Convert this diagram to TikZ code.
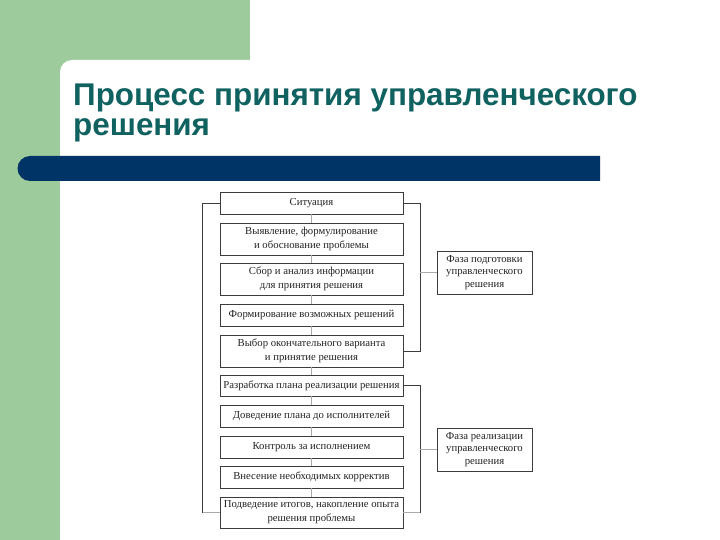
\documentclass[tikz,border=0pt]{standalone}
\usepackage{fontspec}
\setmainfont{Liberation Serif}
\newfontfamily\titlefamily{Liberation Sans}
\definecolor{greenbg}{RGB}{158,203,155}
\definecolor{barblue}{RGB}{0,51,102}
\definecolor{titlecol}{RGB}{16,98,96}
\definecolor{boxline}{RGB}{60,60,60}
\definecolor{thin}{RGB}{170,170,170}
\definecolor{txt}{RGB}{35,35,35}
\begin{document}
\begin{tikzpicture}[x=1pt,y=-1pt,
  stage/.style={draw=boxline, line width=0.9pt, fill=white, minimum width=183pt, inner sep=0pt, align=center, text=txt, font=\fontsize{10.7}{14}\selectfont},
  phase/.style={draw=boxline, line width=0.9pt, fill=white, minimum width=95pt, minimum height=43pt, inner sep=0pt, align=center, text=txt, font=\fontsize{10.7}{12.3}\selectfont},
  brk/.style={draw=boxline, line width=0.9pt},
  lnk/.style={draw=thin, line width=0.6pt}]
\useasboundingbox (0,0) rectangle (720,540);
\fill[white] (0,0) rectangle (720,540);
\fill[greenbg] (0,0) rectangle (250,540);
\fill[white, rounded corners=12pt] (60,60) rectangle (760,580);
\fill[barblue] (30,156) -- (600,156) -- (600,181) -- (30,181) arc[start angle=270, end angle=90, radius=12.5pt] -- cycle;
\node[anchor=base west, inner sep=0pt, text=titlecol, font=\titlefamily\bfseries\fontsize{31.4}{31.4}\selectfont] (t1) at (73,106) {Процесс принятия управленческого};
\node[anchor=base west, inner sep=0pt, text=titlecol, font=\titlefamily\bfseries\fontsize{31.4}{31.4}\selectfont] (t2) at (73,136) {решения};
% stages
\node[stage, minimum height=22pt] (b1) at (311.5,203) {Ситуация};
\node[stage, minimum height=32pt] (b2) at (311.5,239) {Выявление, формулирование\\и обоснование проблемы};
\node[stage, minimum height=32pt] (b3) at (311.5,279) {Сбор и анализ информации\\для принятия решения};
\node[stage, minimum height=22pt] (b4) at (311.5,315) {Формирование возможных решений};
\node[stage, minimum height=32pt] (b5) at (311.5,351) {Выбор окончательного варианта\\и принятие решения};
\node[stage, minimum height=21pt] (b6) at (311.5,385.5) {Разработка плана реализации решения};
\node[stage, minimum height=22pt] (b7) at (311.5,416) {Доведение плана до исполнителей};
\node[stage, minimum height=22pt] (b8) at (311.5,447) {Контроль за исполнением};
\node[stage, minimum height=22pt] (b9) at (311.5,477) {Внесение необходимых корректив};
\node[stage, minimum height=31pt] (b10) at (311.5,512.5) {Подведение итогов, накопление опыта\\решения проблемы};
\node[phase] (p1) at (484.5,272.5) {Фаза подготовки\\управленческого\\решения};
\node[phase] (p2) at (484.5,449.5) {Фаза реализации\\управленческого\\решения};
% links between stages
\foreach \a/\b in {b1/b2,b2/b3,b3/b4,b4/b5,b5/b6,b6/b7,b7/b8,b8/b9,b9/b10}
  \draw[lnk] (\a.south) -- (\b.north);
% brackets
\coordinate (lt) at ([xshift=-17pt]b1.west);
\coordinate (lb) at ([xshift=-17pt]b10.west);
\draw[brk] (b1.west) -- (lt) -- (lb);
\draw[lnk] (lb) -- (b10.west);
\coordinate (r1) at ([xshift=17pt]b1.east);
\draw[brk] (b1.east) -- (r1) |- (b5.east);
\coordinate (r2) at ([xshift=17pt]b6.east);
\coordinate (r2b) at ([xshift=17pt]b10.east);
\draw[brk] (b6.east) -- (r2) -- (r2b);
\draw[lnk] (r2b) -- (b10.east);
\draw[lnk] (p1.west) -- ++(-17,0);
\draw[lnk] (p2.west) -- ++(-17,0);
\end{tikzpicture}
\end{document}
